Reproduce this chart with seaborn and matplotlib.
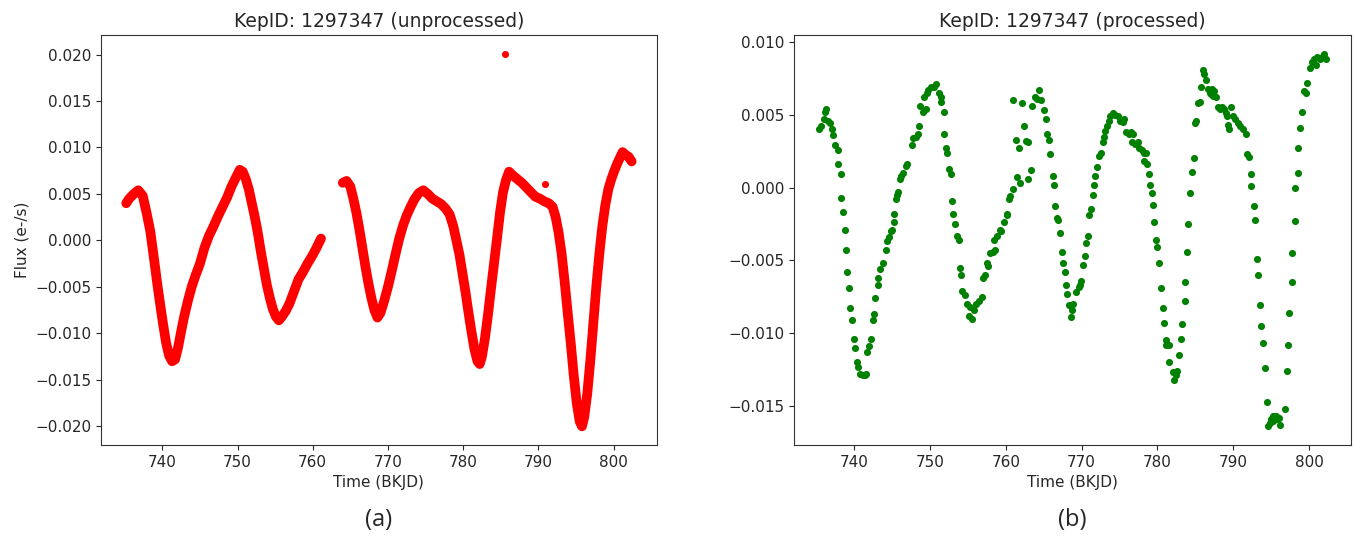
import seaborn as sns
import matplotlib.pyplot as plt
import pandas as pd

raw_time_1 = [735.2, 735.6, 736.2, 736.8, 737.4, 737.9, 738.4, 738.9, 739.3, 739.7,
              740.1, 740.5, 740.9, 741.3, 741.7, 742.1, 742.5, 742.9, 743.4, 743.9,
              744.4, 745.0, 745.6, 746.2, 746.8, 747.4, 748.0, 748.6, 749.2, 749.8,
              750.3, 750.7, 751.1, 751.5, 751.9, 752.3, 752.7, 753.1, 753.5, 753.9,
              754.3, 754.7, 755.1, 755.5, 755.9, 756.4, 756.9, 757.5, 758.1, 758.7,
              759.3, 759.9, 760.5, 761.1]
raw_flux_1 = [0.0040, 0.0045, 0.0050, 0.0054, 0.0048, 0.0030, 0.0010, -0.0020, -0.0045, -0.0068,
              -0.0090, -0.0110, -0.0124, -0.0130, -0.0128, -0.0115, -0.0098, -0.0082, -0.0065, -0.0050,
              -0.0038, -0.0025, -0.0008, 0.0005, 0.0015, 0.0026, 0.0036, 0.0046, 0.0058, 0.0068,
              0.0076, 0.0074, 0.0066, 0.0055, 0.0040, 0.0025, 0.0008, -0.0012, -0.0030, -0.0048,
              -0.0062, -0.0074, -0.0082, -0.0086, -0.0082, -0.0076, -0.0068, -0.0055, -0.0042, -0.0034,
              -0.0025, -0.0017, -0.0008, 0.0002]

raw_time_2 = [764.0, 764.5, 765.0, 765.4, 765.8, 766.2, 766.6, 767.0, 767.4, 767.8,
              768.2, 768.6, 769.0, 769.5, 770.0, 770.5, 771.0, 771.5, 772.0, 772.5,
              773.0, 773.5, 774.1, 774.7, 775.3, 775.9, 776.5, 777.1, 777.7, 778.2,
              778.7, 779.1, 779.5, 779.9, 780.3, 780.7, 781.1, 781.5, 781.9, 782.2,
              782.5, 782.9, 783.3, 783.7, 784.1, 784.5, 784.9, 785.3, 785.7, 786.1,
              786.6, 787.2, 787.8, 788.4, 789.0, 789.6, 790.2, 790.8, 791.4, 791.9,
              792.3, 792.7, 793.1, 793.5, 793.9, 794.3, 794.7, 795.1, 795.5, 795.8,
              796.1, 796.5, 796.9, 797.3, 797.7, 798.1, 798.5, 798.9, 799.3, 799.7,
              800.1, 800.5, 800.9, 801.2, 801.6, 802.0, 802.4]
raw_flux_2 = [0.0062, 0.0064, 0.0058, 0.0045, 0.0030, 0.0012, -0.0008, -0.0028, -0.0046, -0.0062,
              -0.0075, -0.0083, -0.0078, -0.0065, -0.0050, -0.0033, -0.0015, 0.0002, 0.0016, 0.0027,
              0.0036, 0.0044, 0.0051, 0.0054, 0.0050, 0.0045, 0.0042, 0.0039, 0.0034, 0.0028,
              0.0015, 0.0000, -0.0015, -0.0035, -0.0055, -0.0077, -0.0098, -0.0117, -0.0130, -0.0133,
              -0.0125, -0.0105, -0.0080, -0.0052, -0.0025, 0.0002, 0.0030, 0.0052, 0.0065, 0.0074,
              0.0070, 0.0066, 0.0062, 0.0057, 0.0052, 0.0047, 0.0045, 0.0042, 0.0040, 0.0036,
              0.0025, 0.0008, -0.0015, -0.0045, -0.0078, -0.0110, -0.0145, -0.0175, -0.0195, -0.0200,
              -0.0190, -0.0165, -0.0130, -0.0090, -0.0050, -0.0015, 0.0015, 0.0038, 0.0055, 0.0066,
              0.0075, 0.0083, 0.0090, 0.0095, 0.0092, 0.0090, 0.0085]

outlier_time = [785.6, 790.9]
outlier_flux = [0.0201, 0.0061]

# processed light curve (binned points)
proc_time = [735.4, 735.6, 736.0, 736.2, 736.3, 736.5, 736.8, 737.1, 737.2, 737.5,
             737.8, 737.9, 738.2, 738.3, 738.5, 738.8, 738.9, 739.1, 739.3, 739.5,
             739.7, 740.0, 740.1, 740.4, 740.5, 740.8, 741.1, 741.4, 741.6, 741.7,
             742.0, 742.2, 742.5, 742.6, 742.8, 743.1, 743.2, 743.4, 743.8, 744.2,
             744.3, 744.6, 744.8, 745.0, 745.2, 745.3, 745.5, 745.7, 745.8, 746.1,
             746.2, 746.5, 746.8, 747.0, 747.6, 747.8, 748.1, 748.4, 748.6, 748.7,
             749.1, 749.5, 749.2, 749.6, 749.8, 750.1, 750.5, 750.8, 751.2, 751.4,
             751.5, 751.8, 751.9, 752.1, 752.3, 752.5, 752.8, 752.9, 753.1, 753.3,
             753.5, 753.8, 753.9, 754.1, 754.2, 754.6, 754.9, 755.3, 755.2, 755.5,
             755.8, 756.1, 756.4, 756.8, 757.0, 757.2, 757.5, 757.7, 757.9, 758.3,
             758.6, 758.5, 758.9, 759.3, 759.4, 759.7, 760.1, 760.2, 760.4, 760.6,
             760.9, 761.0, 761.4, 761.7, 761.5, 761.9, 762.1, 762.4, 762.7, 762.9,
             762.9, 763.3, 763.4, 763.8, 764.1, 764.4, 764.7, 765.1, 765.3, 765.4,
             765.7, 765.8, 766.2, 766.3, 766.5, 766.8, 766.9, 767.2, 767.4, 767.5,
             767.8, 768.0, 768.1, 768.3, 768.6, 768.8, 768.9, 769.3, 769.6, 769.8,
             769.9, 770.2, 770.4, 770.6, 770.8, 771.0, 771.2, 771.5, 771.6, 771.8,
             772.0, 772.3, 772.6, 772.8, 773.0, 773.1, 773.3, 773.6, 773.8, 774.1,
             774.4, 774.8, 775.1, 775.4, 775.6, 775.9, 776.2, 776.5, 776.8, 776.7,
             777.1, 777.4, 777.6, 778.0, 778.3, 778.5, 778.3, 778.6, 778.9, 779.0,
             779.3, 779.4, 779.6, 779.8, 780.0, 780.2, 780.5, 780.7, 780.9, 781.1,
             781.2, 781.5, 781.6, 782.0, 782.2, 782.4, 782.6, 782.8, 783.1, 783.3,
             783.6, 783.7, 783.9, 784.1, 784.3, 784.6, 784.8, 784.9, 785.1, 785.4,
             785.6, 785.8, 786.0, 786.2, 786.4, 786.7, 786.9, 787.1, 787.2, 787.4,
             787.5, 787.8, 788.0, 788.2, 788.5, 788.8, 789.0, 789.2, 789.3, 789.5,
             789.7, 790.0, 790.3, 790.6, 790.9, 791.3, 791.7, 791.8, 792.1, 792.3,
             792.4, 792.7, 792.9, 793.1, 793.3, 793.5, 793.7, 793.9, 794.2, 794.4,
             794.6, 794.8, 795.0, 795.2, 795.3, 795.6, 795.8, 796.0, 796.2, 796.8,
             797.1, 797.2, 797.4, 797.7, 797.8, 798.1, 798.2, 798.5, 798.6, 798.8,
             799.1, 799.4, 799.6, 799.7, 800.1, 800.4, 800.7, 800.9, 801.0, 801.4,
             801.7, 802.0, 802.2]
proc_flux = [0.0040, 0.0042, 0.0047, 0.0052, 0.0054, 0.0046, 0.0044, 0.0040, 0.0036, 0.0029,
             0.0026, 0.0016, 0.0009, -0.0007, -0.0017, -0.0029, -0.0043, -0.0058, -0.0069, -0.0083,
             -0.0091, -0.0104, -0.0110, -0.0120, -0.0123, -0.0128, -0.0129, -0.0129, -0.0128, -0.0113,
             -0.0109, -0.0104, -0.0091, -0.0087, -0.0076, -0.0067, -0.0062, -0.0056, -0.0052, -0.0043,
             -0.0037, -0.0034, -0.0030, -0.0029, -0.0024, -0.0018, -0.0008, -0.0005, -0.0003, 0.0006,
             0.0008, 0.0010, 0.0015, 0.0016, 0.0029, 0.0034, 0.0035, 0.0037, 0.0042, 0.0056,
             0.0052, 0.0054, 0.0062, 0.0065, 0.0067, 0.0069, 0.0069, 0.0071, 0.0065, 0.0062,
             0.0059, 0.0052, 0.0037, 0.0027, 0.0024, 0.0013, 0.0009, -0.0009, -0.0018, -0.0025,
             -0.0033, -0.0036, -0.0055, -0.0060, -0.0071, -0.0074, -0.0080, -0.0082, -0.0088, -0.0090,
             -0.0084, -0.0080, -0.0078, -0.0075, -0.0062, -0.0060, -0.0052, -0.0054, -0.0045, -0.0044,
             -0.0043, -0.0036, -0.0033, -0.0029, -0.0030, -0.0024, -0.0018, -0.0019, -0.0008, -0.0006,
             -0.0001, 0.0060, 0.0033, 0.0027, 0.0007, 0.0003, 0.0058, 0.0042, 0.0032, 0.0031,
             0.0006, 0.0012, 0.0056, 0.0062, 0.0061, 0.0067, 0.0060, 0.0053, 0.0047, 0.0037,
             0.0033, 0.0023, 0.0008, 0.0002, -0.0013, -0.0021, -0.0022, -0.0031, -0.0044, -0.0052,
             -0.0058, -0.0067, -0.0073, -0.0081, -0.0089, -0.0084, -0.0080, -0.0072, -0.0068, -0.0067,
             -0.0064, -0.0053, -0.0047, -0.0038, -0.0033, -0.0019, -0.0015, -0.0005, 0.0002, 0.0008,
             0.0014, 0.0022, 0.0024, 0.0031, 0.0035, 0.0039, 0.0042, 0.0046, 0.0049, 0.0051,
             0.0050, 0.0049, 0.0046, 0.0045, 0.0047, 0.0038, 0.0037, 0.0038, 0.0037, 0.0031,
             0.0030, 0.0031, 0.0027, 0.0026, 0.0024, 0.0024, 0.0018, 0.0016, 0.0009, 0.0002,
             -0.0004, -0.0012, -0.0024, -0.0036, -0.0041, -0.0052, -0.0069, -0.0083, -0.0093, -0.0105,
             -0.0108, -0.0108, -0.0120, -0.0127, -0.0132, -0.0129, -0.0126, -0.0115, -0.0104, -0.0094,
             -0.0078, -0.0065, -0.0044, -0.0025, -0.0004, 0.0011, 0.0020, 0.0044, 0.0046, 0.0058,
             0.0059, 0.0069, 0.0081, 0.0078, 0.0074, 0.0068, 0.0065, 0.0064, 0.0068, 0.0063,
             0.0066, 0.0062, 0.0055, 0.0054, 0.0055, 0.0054, 0.0051, 0.0049, 0.0043, 0.0040,
             0.0055, 0.0049, 0.0047, 0.0044, 0.0042, 0.0040, 0.0037, 0.0023, 0.0021, 0.0009,
             0.0001, -0.0013, -0.0022, -0.0049, -0.0060, -0.0081, -0.0095, -0.0107, -0.0124, -0.0147,
             -0.0164, -0.0162, -0.0159, -0.0157, -0.0160, -0.0157, -0.0159, -0.0158, -0.0163, -0.0152,
             -0.0126, -0.0108, -0.0086, -0.0065, -0.0045, -0.0023, 0.0000, 0.0010, 0.0027, 0.0041,
             0.0052, 0.0066, 0.0065, 0.0072, 0.0082, 0.0086, 0.0088, 0.0084, 0.0090, 0.0088,
             0.0090, 0.0092, 0.0088]

titles = ["KepID: 1297347 (unprocessed)", "KepID: 1297347 (processed)"]
panel_tags = ["(a)", "(b)"]

sns.set_style("ticks")
plt.rcParams["xtick.labelsize"] = 11
plt.rcParams["ytick.labelsize"] = 11

fig = plt.figure(figsize=(13.55, 5.42), dpi=100)
ax1 = fig.add_axes([0.0745, 0.179, 0.4103, 0.7565])
ax2 = fig.add_axes([0.586, 0.179, 0.411, 0.7565])

# left: raw flux as a thick red band, two segments either side of the data gap
for t, f in [(raw_time_1, raw_flux_1), (raw_time_2, raw_flux_2)]:
    sns.lineplot(x=t, y=f, color="red", linewidth=7, sort=False, ax=ax1,
                 solid_capstyle="round", solid_joinstyle="round")
sns.scatterplot(x=outlier_time, y=outlier_flux, color="red", s=26, linewidth=0, ax=ax1)

# right: processed points
proc = pd.DataFrame({"time": proc_time, "flux": proc_flux})
sns.scatterplot(data=proc, x="time", y="flux", color="green", s=26, linewidth=0, ax=ax2)

ax1.set_ylabel("Flux (e-/s)", fontsize=11)
ax2.set_ylabel("")
for ax, title in zip([ax1, ax2], titles):
    ax.set_title(title, fontsize=13.5)
    ax.set_xlabel("Time (BKJD)", fontsize=11)
    ax.set_xticks([740, 750, 760, 770, 780, 790, 800])
    for sp in ax.spines.values():
        sp.set_visible(True)
        sp.set_color("#333333")

fig.text(379 / 1355, 1 - 520 / 542, panel_tags[0], fontsize=17, family="Open Sans",
         ha="center", va="center")
fig.text(1072 / 1355, 1 - 520 / 542, panel_tags[1], fontsize=17, family="Open Sans",
         ha="center", va="center")

fig.savefig("out.png", dpi=100)
